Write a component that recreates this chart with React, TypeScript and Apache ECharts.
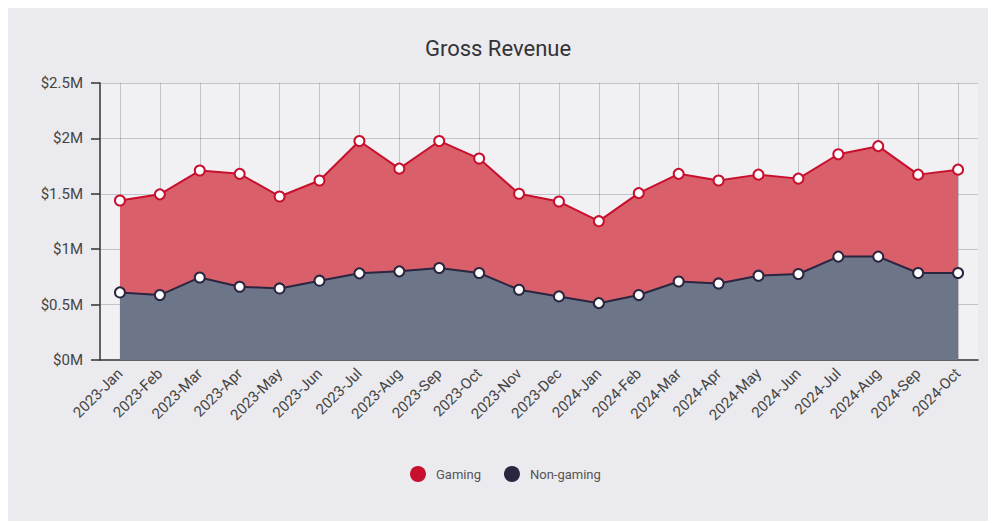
import React, { useEffect, useRef } from "react";
import * as echarts from "echarts";

const categories = [
  "2023-Jan", "2023-Feb", "2023-Mar", "2023-Apr", "2023-May", "2023-Jun",
  "2023-Jul", "2023-Aug", "2023-Sep", "2023-Oct", "2023-Nov", "2023-Dec",
  "2024-Jan", "2024-Feb", "2024-Mar", "2024-Apr", "2024-May", "2024-Jun",
  "2024-Jul", "2024-Aug", "2024-Sep", "2024-Oct",
];

// values in $M
const gaming = [
  1.44, 1.495, 1.71, 1.68, 1.476, 1.62, 1.977, 1.727, 1.977, 1.818, 1.5, 1.43,
  1.253, 1.506, 1.68, 1.62, 1.673, 1.637, 1.857, 1.93, 1.673, 1.718,
];
const nonGaming = [
  0.61, 0.586, 0.745, 0.661, 0.646, 0.716, 0.782, 0.8, 0.83, 0.785, 0.634, 0.574,
  0.513, 0.586, 0.709, 0.691, 0.761, 0.776, 0.933, 0.933, 0.785, 0.785,
];
const yTicks = [0, 0.5, 1, 1.5, 2, 2.5];

const RED = "#c8102e";
const NAVY = "#2a2540";

export default function App() {
  const ref = useRef<HTMLDivElement>(null);
  useEffect(() => {
    if (!ref.current) return;
    const chart = echarts.init(ref.current, null, { renderer: "svg" });
    const gridLineStyle = { color: "rgba(60,60,80,0.25)", width: 1, type: "solid" };
    chart.setOption({
      animation: false,
      textStyle: { fontFamily: "Roboto" },
      title: {
        text: "Gross Revenue",
        left: "center",
        top: 24,
        textStyle: { fontFamily: "Roboto", fontSize: 22, fontWeight: "normal", color: "#333338" },
      },
      legend: {
        left: 397,
        top: 453,
        icon: "circle",
        itemWidth: 26,
        itemHeight: 16,
        itemGap: 23,
        textStyle: { fontFamily: "Roboto", fontSize: 13, color: "#555" },
        data: [
          { name: "Gaming", itemStyle: { color: RED, borderWidth: 0 } },
          { name: "Non-gaming", itemStyle: { color: NAVY, borderWidth: 0 } },
        ],
      },
      grid: {
        left: 92,
        right: 10,
        top: 75,
        bottom: 161,
        show: true,
        backgroundColor: "#f1f1f4",
        borderWidth: 0,
      },
      xAxis: {
        type: "category",
        data: categories,
        boundaryGap: true,
        axisLine: { lineStyle: { color: "#333", width: 1.5 } },
        axisTick: { alignWithLabel: true, length: 7, lineStyle: { color: "#333", width: 1.5 } },
        axisLabel: { rotate: 45, fontSize: 15, color: "#444", interval: 0, margin: 11 },
        splitLine: { show: false },
      },
      yAxis: {
        type: "value",
        min: 0,
        max: 2.5,
        interval: 0.5,
        axisLine: { show: true, lineStyle: { color: "#333", width: 1.5 } },
        axisTick: { show: true, length: 9, lineStyle: { color: "#333", width: 1.5 } },
        axisLabel: { fontSize: 15, color: "#444", margin: 17, formatter: (v: number) => `$${v}M` },
        splitLine: { show: false },
      },
      series: [
        {
          name: "Gaming",
          type: "line",
          data: gaming,
          symbol: "circle",
          symbolSize: 10,
          showAllSymbol: true,
          lineStyle: { color: RED, width: 2 },
          itemStyle: { color: "#fff", borderColor: RED, borderWidth: 2 },
          areaStyle: { color: "#d9606b", opacity: 1 },
          z: 2,
        },
        {
          name: "Non-gaming",
          type: "line",
          data: nonGaming,
          symbol: "circle",
          symbolSize: 10,
          showAllSymbol: true,
          lineStyle: { color: NAVY, width: 2 },
          itemStyle: { color: "#fff", borderColor: NAVY, borderWidth: 2 },
          areaStyle: { color: "#6d7589", opacity: 1 },
          z: 3,
          markLine: {
            silent: true,
            symbol: ["none", "none"],
            label: { show: false },
            lineStyle: gridLineStyle,
            z: 1,
            data: [
              ...categories.map((c) => ({ xAxis: c })),
              ...yTicks.filter((t) => t > 0).map((t) => ({ yAxis: t })),
            ],
          },
        },
      ],
    });
    return () => chart.dispose();
  }, []);
  return (
    <div style={{ width: 980, height: 513, background: "#ebeaee" }}>
      <div ref={ref} style={{ width: 980, height: 513 }} />
    </div>
  );
}
